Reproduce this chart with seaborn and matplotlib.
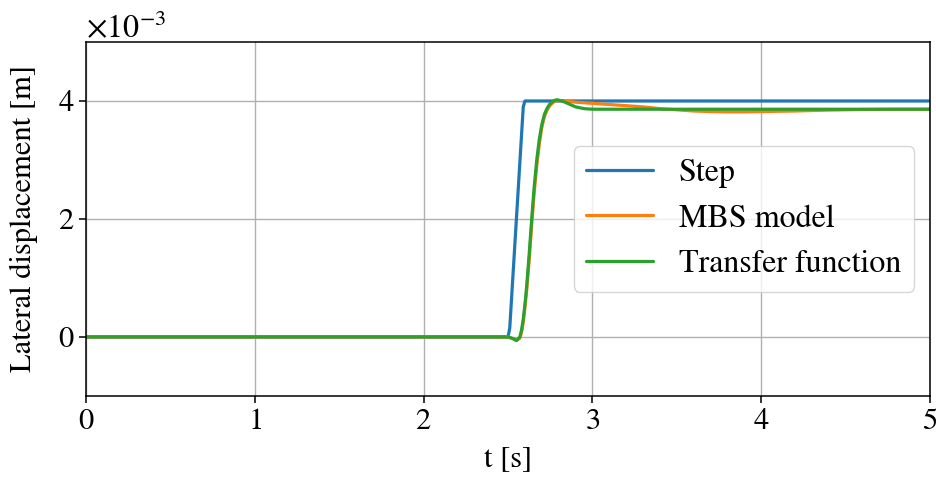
import matplotlib
matplotlib.use("Agg")
import matplotlib.pyplot as plt
import seaborn as sns

# values, displacement in 1e-3 m
t_step = [0.0, 2.50, 2.51, 2.59, 2.60, 5.0]
y_step = [0.0, 0.0, 0.15, 3.9, 4.0, 4.0]

t_mbs = [0.0, 2.50, 2.53, 2.55, 2.57, 2.58, 2.59, 2.60, 2.61, 2.625, 2.64, 2.655, 2.67, 2.685,
         2.70, 2.715, 2.73, 2.745, 2.76, 2.775, 2.79, 2.82, 2.86, 2.90, 3.00, 3.10, 3.20, 3.30,
         3.40, 3.50, 3.60, 3.70, 3.80, 3.90, 4.00, 4.20, 4.40, 4.60, 4.80, 5.0]
y_mbs = [0.0, 0.0, -0.03, -0.06, -0.02, 0.08, 0.25, 0.5, 0.78, 1.3, 1.9, 2.45, 2.9, 3.27,
         3.55, 3.73, 3.84, 3.91, 3.96, 3.99, 4.01, 4.00, 3.99, 3.98, 3.96, 3.94, 3.92, 3.90,
         3.87, 3.85, 3.83, 3.82, 3.815, 3.815, 3.82, 3.83, 3.845, 3.855, 3.86, 3.86]

t_tf = [0.0, 2.50, 2.53, 2.55, 2.57, 2.58, 2.59, 2.60, 2.61, 2.625, 2.64, 2.655, 2.67, 2.685,
        2.70, 2.715, 2.73, 2.745, 2.76, 2.775, 2.79, 2.82, 2.86, 2.90, 2.95, 3.00, 5.0]
y_tf = [0.0, 0.0, -0.03, -0.06, 0.0, 0.12, 0.3, 0.55, 0.85, 1.4, 2.0, 2.55, 3.0, 3.35,
        3.6, 3.77, 3.87, 3.94, 3.98, 4.01, 4.02, 4.0, 3.95, 3.9, 3.87, 3.86, 3.86]

labels = ["Step", "MBS model", "Transfer function"]
colors = ["#1f77b4", "#ff7f0e", "#2ca02c"]

sns.set_style("ticks", {"text.color": "black", "axes.labelcolor": "black",
                        "xtick.color": "black", "ytick.color": "black"})
plt.rcParams['font.family'] = ['STIXGeneral', 'Liberation Serif', 'DejaVu Serif']
plt.rcParams['mathtext.fontset'] = 'stix'
plt.rcParams['axes.formatter.use_mathtext'] = True
plt.rcParams['font.size'] = 22

fig = plt.figure(figsize=(9.36, 4.87), dpi=100)
ax = fig.add_axes([0.092, 0.187, 0.9016, 0.7268])

series = [(t_step, y_step), (t_mbs, y_mbs), (t_tf, y_tf)]
for (tt, yy), lab, col in zip(series, labels, colors):
    sns.lineplot(x=tt, y=[v * 1e-3 for v in yy], ax=ax, label=lab, color=col, linewidth=2.3)

ax.set_xlim(0, 5)
ax.set_ylim(-1e-3, 5e-3)
ax.set_yticks([0, 2e-3, 4e-3])
ax.set_xticks([0, 1, 2, 3, 4, 5])
ax.ticklabel_format(axis="y", style="sci", scilimits=(0, 0), useMathText=True)
ax.grid(True, color="#b0b0b0", linewidth=1.0)
ax.set_xlabel("t [s]", fontsize=22, labelpad=7)
ax.set_ylabel("Lateral displacement [m]", fontsize=22, labelpad=14)
ax.tick_params(labelsize=22, direction="out", length=5, width=1.1, color="black",
               labelcolor="black")
ax.yaxis.get_offset_text().set_fontsize(23)
for s in ax.spines.values():
    s.set_linewidth(1.1)
    s.set_color("black")
ax.legend(loc="center right", fontsize=23, framealpha=0.8, edgecolor="#cccccc",
          handlelength=2.1)

fig.savefig("out.png", dpi=100)
